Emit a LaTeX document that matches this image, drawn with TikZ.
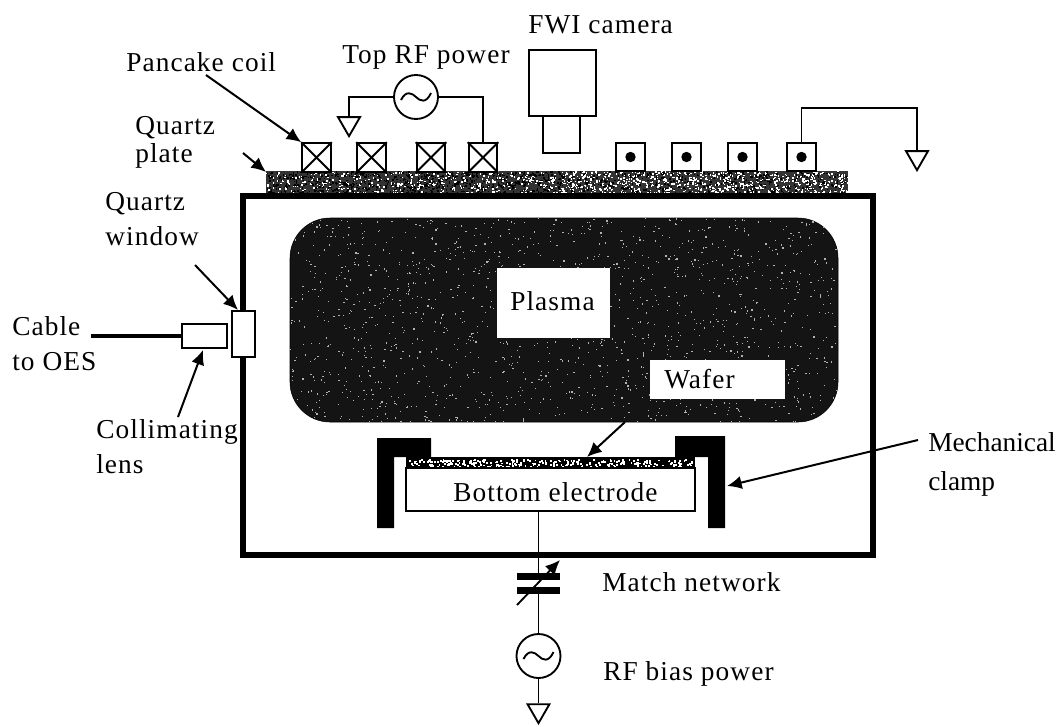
\documentclass[tikz,border=0pt]{standalone}
\usepackage{fontspec}
\setmainfont[LetterSpace=4]{Liberation Serif}
\newfontfamily\plainf{Liberation Serif}
\usetikzlibrary{shapes.geometric,arrows.meta}
\tikzset{
  x=0.75pt,y=-0.75pt,
  lbl/.style={anchor=base west,inner sep=0pt,font=\fontsize{20.5}{24}\selectfont},
  thinbox/.style={draw,fill=white,line width=1.4pt,inner sep=0pt},
  coilplain/.style={thinbox,rectangle,minimum width=21.5pt,minimum height=21.5pt},
  wire/.style={line width=1.4pt},
  lead/.style={line width=1.5pt,-{Latex[length=11pt,width=10pt]}},
  source/.style={draw,circle,fill=white,line width=1.4pt,minimum size=33pt,inner sep=0pt},
  gnd/.style={draw,fill=white,regular polygon,regular polygon sides=3,shape border rotate=180,minimum size=19pt,inner sep=0pt,line width=1.4pt},
  plate/.style={fill=black,inner sep=0pt,minimum width=32pt,minimum height=5.2pt},
  whitebox/.style={fill=white,inner sep=0pt}
}
\newcommand{\wavein}[1]{\begin{scope}[shift={(#1)}]\draw[wire] (-15,3) .. controls (-10,-7) and (-4,-4) .. (0,0) .. controls (4,4) and (10,7) .. (15,-4);\end{scope}}
\begin{document}
\begin{tikzpicture}
\useasboundingbox (0,0) rectangle (1059,726);
\pgfmathsetseed{7}
% quartz plate
\node[fill=black!80,inner sep=0pt,minimum width=436.5pt,minimum height=16.5pt] (quartz) at (557,182) {};
\begin{scope}
\clip (266,171) rectangle (848,193);
\foreach \i in {1,...,2600}{
  \pgfmathsetmacro{\px}{266+582*rnd}
  \pgfmathsetmacro{\py}{171+22*rnd}
  \pgfmathsetmacro{\sh}{(\px<560?rnd<0.7:rnd<0.4)?100:0}
  \fill[black!\sh!white] (\px,\py) rectangle +(1.5,1.5);
}
\end{scope}
% chamber
\node[draw,line width=4.5pt,inner sep=0pt,minimum width=472.5pt,minimum height=269.25pt] (chamber) at (558,375.5) {};
% plasma
\draw[fill=black!92,rounded corners=30pt] (290,218) rectangle (838,422);
\begin{scope}
\clip[rounded corners=30pt] (290,218) rectangle (838,422);
\foreach \i in {1,...,1500}{
  \pgfmathsetmacro{\px}{290+548*rnd}
  \pgfmathsetmacro{\py}{218+204*rnd}
  \fill[white!70!black] (\px,\py) rectangle +(1.2,1.2);
}
\end{scope}
\coordinate (plasmaedge) at (625,422);
\node[whitebox,minimum width=84.75pt,minimum height=52.5pt] (plasmabox) at (553.5,303) {};
\node[lbl] (plasmalbl) at (510,310) {Plasma};
\node[whitebox,minimum width=101.25pt,minimum height=29pt] (waferbox) at (717.5,379.5) {};
\node[lbl] (waferlbl) at (664,388) {Wafer};
% clamps
\fill (377,438) -- (431,438) -- (431,457) -- (394,457) -- (394,528) -- (377,528) -- cycle;
\fill (675,436) -- (725,436) -- (725,528) -- (708,528) -- (708,457) -- (675,457) -- cycle;
\coordinate (clampedge) at (727,486);
% wafer strip
\node[fill=black,inner sep=0pt,minimum width=216.75pt,minimum height=8.25pt] (wafer) at (550.5,462.5) {};
\begin{scope}
\clip (407,459) rectangle (694,466);
\foreach \i in {1,...,260}{
  \pgfmathsetmacro{\px}{407+287*rnd}
  \pgfmathsetmacro{\py}{459+7*rnd}
  \fill[white] (\px,\py) rectangle +(1.8,1.8);
}
\end{scope}
% electrode
\node[thinbox,minimum width=216.75pt,minimum height=32.25pt] (electrode) at (550.5,489.5) {};
\node[lbl] (electrodelbl) at (453,501) {Bottom electrode};
% coils
\foreach \n/\cx in {c1/316.5,c2/371.5,c3/431,c4/483}{
  \node[coilplain] (\n) at (\cx,157.5) {};
  \draw[wire] (\n.north west) -- (\n.south east) (\n.north east) -- (\n.south west);
}
\foreach \n/\cx in {d1/630.5,d2/686.5,d3/742.5,d4/801.5}{
  \node[coilplain] (\n) at (\cx,157) {};
  \fill (\n.center) circle (3.9pt);
}
% top source
\node[source] (topsrc) at (416,97) {};
\wavein{topsrc.center}
\node[gnd] (g1) at (349,123.5) {};
\draw[wire] (topsrc.west) -| (g1.north);
\draw[wire] (topsrc.east) -| (c4.north);
\node[gnd] (g2) at (917,157.5) {};
\draw[wire] (d4.north) |- (g2.north |- 0,108) -- (g2.north);
% camera
\node[thinbox,minimum width=50pt,minimum height=49.5pt] (cambody) at (562.5,83) {};
\node[thinbox,minimum width=27.75pt,minimum height=27.75pt] (camlens) at (561.5,134.5) {};
% window and collimator
\node[thinbox,minimum width=17.25pt,minimum height=34.5pt] (window) at (243.5,334) {};
\node[thinbox,minimum width=33.75pt,minimum height=18pt] (lens) at (204.5,336) {};
\coordinate (cableend) at (91,336);
\draw[line width=3.6pt] (cableend) -- (lens.west);
% bias line
\node[plate] (capA) at (538.5,576.5) {};
\node[plate] (capB) at (538.5,590.5) {};
\coordinate (arrowtail) at (517,605);
\coordinate (arrowhead) at (560,560);
\draw[line width=1.4pt,-{Latex[length=11pt,width=10pt]}] (arrowtail) -- (arrowhead);
\node[source] (biassrc) at (538.5,656) {};
\wavein{biassrc.center}
\node[gnd] (g3) at (538.5,710.5) {};
\draw[wire] (capA.north |- electrode.south) -- (capA.north);
\draw[wire] (capB.south) -- (biassrc.north);
\draw[wire] (biassrc.south) -- (g3.north);
% labels
\node[lbl] (fwi) at (528,33) {FWI camera};
\node[lbl] (toprf) at (342,63) {Top RF power};
\node[lbl] (pancake) at (126,71) {Pancake coil};
\node[lbl] (qp1) at (135,134) {Quartz};
\node[lbl] (qp2) at (135,162) {plate};
\node[lbl] (qw1) at (105,210) {Quartz};
\node[lbl] (qw2) at (105,245) {window};
\node[lbl] (cab1) at (12,335) {Cable};
\node[lbl] (cab2) at (12,370) {to OES};
\node[lbl] (col1) at (96,438) {Collimating};
\node[lbl] (col2) at (96,473) {lens};
\node[lbl,font=\plainf\fontsize{20.5}{24}\selectfont] (mech1) at (928,451) {Mechanical};
\node[lbl,font=\plainf\fontsize{20.5}{24}\selectfont] (mech2) at (928,490) {clamp};
\node[lbl] (match) at (602,591) {Match network};
\node[lbl] (rfbias) at (603,680) {RF bias power};
% leaders
\coordinate (t1) at (206,75);
\coordinate (t2) at (243,153);
\coordinate (t2e) at (266,172);
\coordinate (t3) at (195,265);
\coordinate (t3e) at (238,310);
\coordinate (t4) at (178,417);
\coordinate (t4e) at (203,350);
\coordinate (t5) at (918,440);
\draw[lead] (t1) -- (c1.north west);
\draw[lead] (t2) -- (t2e);
\draw[lead] (t3) -- (t3e);
\draw[lead] (t4) -- (t4e);
\draw[lead] (t5) -- (clampedge);
\draw[lead] (plasmaedge) -- (587,457);
\end{tikzpicture}
\end{document}
